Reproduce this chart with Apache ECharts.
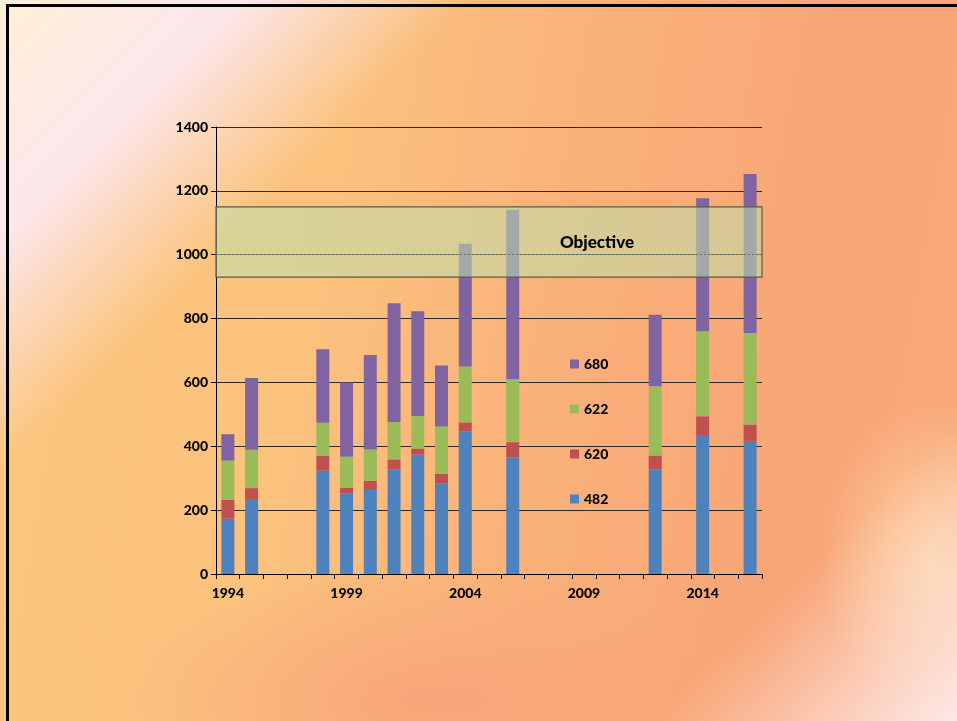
<!DOCTYPE html>
<html>
<head>
<meta charset="utf-8">
<script src="https://cdn.jsdelivr.net/npm/echarts@6/dist/echarts.min.js"></script>
<style>
  html, body { margin: 0; padding: 0; }
  #wrap {
    position: relative; width: 957px; height: 721px; overflow: hidden;
    background:
      linear-gradient(135deg, rgba(253,240,214,1) 0%, rgba(252,231,236,1) 14%, rgba(252,231,236,0) 28%),
      linear-gradient(135deg, rgba(253,232,228,0) 82%, rgba(253,232,230,1) 100%),
      radial-gradient(ellipse 110px 160px at 930px 560px, rgba(252,212,165,0.9), rgba(252,212,165,0)),
      radial-gradient(ellipse 320px 130px at 430px 700px, rgba(248,164,122,0.9), rgba(248,164,122,0)),
      linear-gradient(100deg, #fcc77f 0%, #fbc27d 33%, #f9b07a 58%, #f8a577 82%, #f9ab7c 100%);
  }
  #frame { position: absolute; left: 6px; top: 4px; right: -10px; bottom: -10px;
    border-left: 3px solid #000; border-top: 3px solid #000; pointer-events: none; }
  #chart { position: absolute; left: 0; top: 0; width: 957px; height: 721px; }
</style>
</head>
<body>
<div id="wrap">
  <div id="chart"></div>
  <div id="frame"></div>
</div>
<script>
// ---- data ----
const years = ['1994','1995','1996','1997','1998','1999','2000','2001','2002','2003','2004','2005','2006','2007','2008','2009','2010','2011','2012','2013','2014','2015','2016'];
const s482 = [173, 235, null, null, 324, 253, 266, 328, 374, 284, 447, null, 366, null, null, null, null, null, 328, null, 435, null, 417];
const s620 = [59, 34, null, null, 46, 17, 26, 31, 19, 30, 28, null, 47, null, null, null, null, null, 43, null, 59, null, 51];
const s622 = [123, 120, null, null, 104, 97, 98, 117, 102, 148, 175, null, 197, null, null, null, null, null, 217, null, 266, null, 287];
const s680 = [83, 225, null, null, 230, 233, 296, 372, 328, 191, 384, null, 531, null, null, null, null, null, 224, null, 417, null, 498];
const seriesNames = ['482', '620', '622', '680'];
const legendOrder = ['680', '622', '620', '482'];
const objectiveLow = 930, objectiveHigh = 1150, objectiveLine = 1000;
const objectiveLabel = 'Objective';
const yTicks = { min: 0, max: 1400, interval: 200 };

const colors = ['#4f81bd', '#c0504d', '#9bbb59', '#8064a2'];
const font = 'Lato, "Open Sans", sans-serif';

const chart = echarts.init(document.getElementById('chart'), null, { renderer: 'canvas' });
const dataSets = [s482, s620, s622, s680];

const barSeries = seriesNames.map((n, i) => ({
  name: n, type: 'bar', stack: 'total', barWidth: 13, z: 2,
  data: dataSets[i],
  itemStyle: { color: colors[i] }
}));

chart.setOption({
  backgroundColor: 'transparent',
  animation: false,
  textStyle: { fontFamily: font },
  grid: { left: 216, right: 195, top: 127, bottom: 147, containLabel: false },
  legend: {
    orient: 'vertical', left: 565, top: 352,
    data: legendOrder,
    itemWidth: 9, itemHeight: 9, itemGap: 31,
    textStyle: { fontFamily: font, fontWeight: 900, fontSize: 14, color: '#000' },
    icon: 'rect'
  },
  xAxis: {
    type: 'category', data: years, boundaryGap: true,
    axisLine: { lineStyle: { color: '#000', width: 1 } },
    axisTick: { show: true, interval: 0, length: 5, lineStyle: { color: '#000' } },
    axisLabel: { interval: 4, color: '#000', fontWeight: 900, fontSize: 14, fontFamily: font, margin: 12 },
    splitLine: { show: false }
  },
  yAxis: {
    type: 'value', min: yTicks.min, max: yTicks.max, interval: yTicks.interval,
    axisLine: { show: true, lineStyle: { color: '#000', width: 1 } },
    axisTick: { show: true, length: 5, lineStyle: { color: '#000' } },
    axisLabel: { color: '#000', fontWeight: 900, fontSize: 14, fontFamily: font, margin: 8,
                 formatter: v => String(v) },
    splitLine: { show: true, lineStyle: { color: '#2a2a2a', width: 1 } }
  },
  series: barSeries.concat([{
    name: 'objective', type: 'line', data: [], z: 10, silent: true,
    markArea: {
      silent: true, z: 10,
      itemStyle: { color: 'rgba(190,223,171,0.56)', borderColor: '#5a5a48', borderWidth: 1.2 },
      label: { show: true, position: 'inside', offset: [108, 1], color: '#000',
               fontFamily: font, fontWeight: 900, fontSize: 17 },
      data: [[{ yAxis: objectiveLow, name: objectiveLabel }, { yAxis: objectiveHigh }]]
    },
    markLine: {
      silent: true, symbol: 'none', z: 11,
      lineStyle: { color: '#6b6b5a', type: [2, 2], width: 1 },
      label: { show: false },
      data: [{ yAxis: objectiveLine }]
    }
  }])
});
</script>
</body>
</html>
